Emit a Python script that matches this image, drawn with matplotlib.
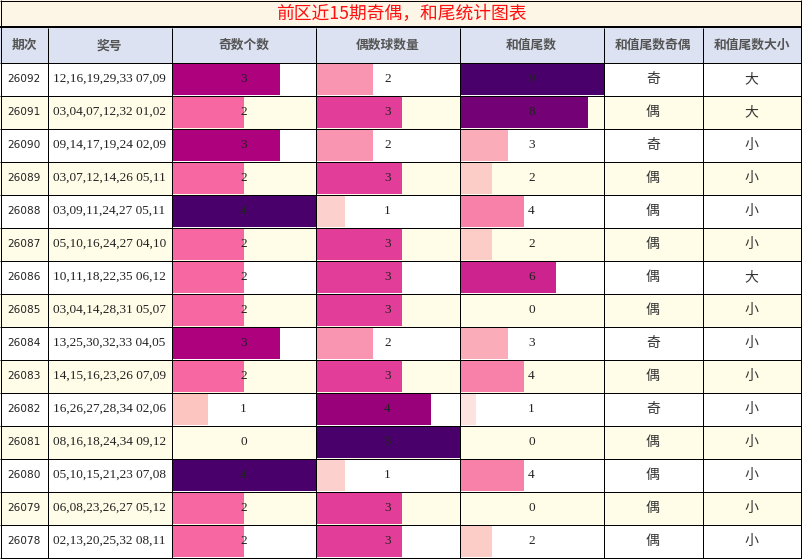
import matplotlib
matplotlib.use("Agg")
import matplotlib.pyplot as plt
from matplotlib.patches import Rectangle
from matplotlib.colors import Normalize
import numpy as np

plt.rcParams['font.family'] = ['Noto Sans CJK SC', 'DejaVu Sans']

title = "前区近15期奇偶，和尾统计图表"
headers = ["期次", "奖号", "奇数个数", "偶数球数量", "和值尾数", "和值尾数奇偶", "和值尾数大小"]
periods = ["26092", "26091", "26090", "26089", "26088", "26087", "26086", "26085",
           "26084", "26083", "26082", "26081", "26080", "26079", "26078"]
numbers = ["12,16,19,29,33 07,09", "03,04,07,12,32 01,02", "09,14,17,19,24 02,09",
           "03,07,12,14,26 05,11", "03,09,11,24,27 05,11", "05,10,16,24,27 04,10",
           "10,11,18,22,35 06,12", "03,04,14,28,31 05,07", "13,25,30,32,33 04,05",
           "14,15,16,23,26 07,09", "16,26,27,28,34 02,06", "08,16,18,24,34 09,12",
           "05,10,15,21,23 07,08", "06,08,23,26,27 05,12", "02,13,20,25,32 08,11"]
odd_count = [3, 2, 3, 2, 4, 2, 2, 2, 3, 2, 1, 0, 4, 2, 2]
even_count = [2, 3, 2, 3, 1, 3, 3, 3, 2, 3, 4, 5, 1, 3, 3]
sum_tail = [9, 8, 3, 2, 4, 2, 6, 0, 3, 4, 1, 0, 4, 0, 2]
tail_parity = ["奇", "偶", "奇", "偶", "偶", "偶", "偶", "偶", "奇", "偶", "奇", "偶", "偶", "偶", "偶"]
tail_size = ["大", "大", "小", "小", "小", "小", "大", "小", "小", "小", "小", "小", "小", "小", "小"]

W, H = 802, 559
fig = plt.figure(figsize=(W / 100, H / 100), dpi=100)
ax = fig.add_axes([0, 0, 1, 1])
ax.set_xlim(0, W)
ax.set_ylim(H, 0)
ax.axis('off')

px = 0.72  # 1 pixel in points
col_x = [0.5, 47.5, 171.5, 315.5, 459.5, 603.5, 702.5, 800.5]
title_top, title_bot = 0.5, 27.0
head_top, head_bot = 28.0, 62.5
row_h = 33.0
n = len(periods)
row_tops = [head_bot + row_h * i for i in range(n)]

# backgrounds
ax.add_patch(Rectangle((0, 0), W, title_bot, facecolor="#FDF5E6", edgecolor="none", zorder=0))
ax.add_patch(Rectangle((0, head_top), W, head_bot - head_top, facecolor="#DCE2F1", edgecolor="none", zorder=0))
for i, t in enumerate(row_tops):
    c = "#FFFFFF" if i % 2 == 0 else "#FFFDE8"
    ax.add_patch(Rectangle((0, t), W, row_h, facecolor=c, edgecolor="none", zorder=0))

# title
ax.text(W / 2, 14, title, ha='center', va='center', fontsize=12.8, color="#FF1010")

# headers
for j, h in enumerate(headers):
    xc = (col_x[j] + col_x[j + 1]) / 2
    ax.text(xc, (head_top + head_bot) / 2 + 0.5, h, ha='center', va='center', fontsize=9.2,
            fontweight='bold', color="#555555")

cmap = plt.get_cmap('RdPu')
centers = np.array([t + row_h / 2 for t in row_tops])

bar_cols = [(2, odd_count, 4), (3, even_count, 5), (4, sum_tail, 9)]
for j, vals, vmax in bar_cols:
    vals = np.array(vals, dtype=float)
    norm = Normalize(0, vmax)
    x0 = col_x[j] + 0.5
    cw = col_x[j + 1] - col_x[j] - 0.5
    ax.barh(centers, vals / vmax * cw, left=x0, height=row_h - 1,
            color=[cmap(norm(v)) for v in vals], edgecolor='none', zorder=1)
    xc = (col_x[j] + col_x[j + 1]) / 2
    for yc, v in zip(centers, vals):
        ax.text(xc, yc, f"{int(v)}", ha='center', va='center', fontsize=9.5,
                family='Liberation Serif', color="#222222", zorder=3)

for yc, p, num, par, sz in zip(centers, periods, numbers, tail_parity, tail_size):
    ax.text((col_x[0] + col_x[1]) / 2, yc, p, ha='center', va='center', fontsize=7.6,
            family='DejaVu Sans', color="#222222", zorder=3)
    ax.text((col_x[1] + col_x[2]) / 2, yc, num, ha='center', va='center', fontsize=9.5,
            family='Liberation Serif', color="#222222", zorder=3)
    ax.text((col_x[5] + col_x[6]) / 2, yc, par, ha='center', va='center', fontsize=10,
            color="#333333", zorder=3)
    ax.text((col_x[6] + col_x[7]) / 2, yc, sz, ha='center', va='center', fontsize=10,
            color="#333333", zorder=3)

# grid lines
bottom = row_tops[-1] + row_h
ax.hlines([title_top], 0, W, colors='black', linewidth=px, zorder=4)
ax.hlines([title_bot], 0, W, colors='black', linewidth=2 * px, zorder=4)
ax.hlines([head_bot] + [t + row_h for t in row_tops], 0, W, colors='black', linewidth=px, zorder=4)
ax.vlines([col_x[0], col_x[-1]], 0, bottom, colors='black', linewidth=px, zorder=4)
ax.vlines(col_x[1:-1], head_top, bottom, colors='black', linewidth=px, zorder=4)

fig.savefig("out.png", dpi=100)
